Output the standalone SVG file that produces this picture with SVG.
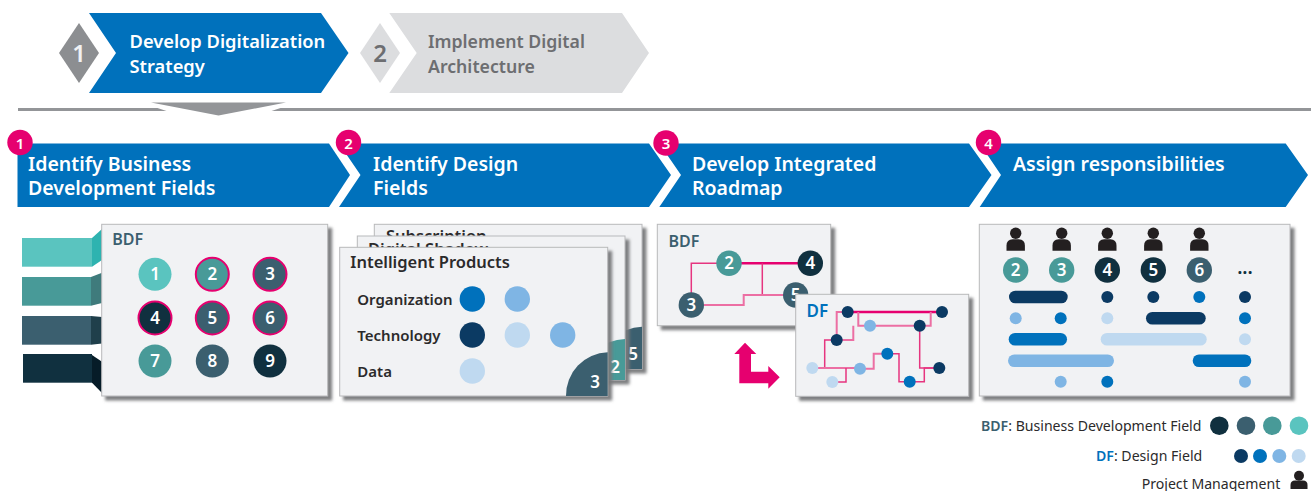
<svg xmlns="http://www.w3.org/2000/svg" width="1311" height="491" viewBox="0 0 1311 491">
<style>
text{font-family:"Noto Sans","Open Sans","Liberation Sans",sans-serif}
.hd{font-size:18.300px;font-weight:600;fill:#fff}
.hs{font-size:19.500px;font-weight:600;fill:#fff}
.hg{font-size:17.700px;font-weight:600;fill:#6d6e71}
.blue{fill:#0071bc}
.card{fill:#f1f2f4;stroke:#b8b9bb;stroke-width:1;filter:url(#sh)}
.n{font-size:17px;font-weight:600;fill:#fff;text-anchor:middle}
.b{font-size:15px;font-weight:600;fill:#fff;text-anchor:middle}
.bdf{font-size:16px;font-weight:600;fill:#3b5f6f}
.lab{font-size:15px;font-weight:600;fill:#2b2a2b}
.ttl{font-size:16.500px;font-weight:600;fill:#2b2a2b}
.leg{font-size:14.100px;fill:#2b2a2b}
.c1{fill:#5ac4bf}.c2{fill:#489a98}.c3{fill:#3b5f6f}.c4{fill:#10303f}
.d1{fill:#0b3a63}.d2{fill:#0071bc}.d3{fill:#7fb5e4}.d4{fill:#bfd9f0}
.ring{stroke:#e6006f;stroke-width:2}
.l0{fill:none;stroke:#e6006f;stroke-width:2.500}
.l1{fill:none;stroke:#e6357f;stroke-width:1.500}
.l2{fill:none;stroke:#ec6fa3;stroke-width:2}
.p{fill:#231f20}
.badge{fill:#e6006f}
</style>
<defs>
<filter id="sh" x="-10%" y="-10%" width="125%" height="125%"><feDropShadow dx="4" dy="4" stdDeviation="1.800" flood-color="#77787b" flood-opacity="0.950"/></filter>
<g id="person"><circle cx="0" cy="0" r="5.700" class="p"/><path class="p" d="M-9.200 17.500V12.500Q-9.200 6 -3 6H3Q9.200 6 9.200 12.500V17.500Z"/></g>
</defs>

<g id="phase-1">
<polygon points="59,53 79,23 99,53 79,83" fill="#8c8e91"/>
<text x="79" y="62" text-anchor="middle" font-size="24" font-weight="600" fill="#f1f2f4">1</text>
<polygon class="blue" points="89,13 321,13 348.500,53 321,93 89,93 116,53"/>
<text class="hd" x="129.500" y="48">Develop Digitalization</text>
<text class="hd" x="129.500" y="73">Strategy</text>
</g>
<g id="phase-2">
<polygon points="360,53 380,23 400,53 380,83" fill="#dcdddf"/>
<text x="380" y="62" text-anchor="middle" font-size="24" font-weight="600" fill="#6d6e71">2</text>
<polygon points="389.300,13 622,13 649,53 622,93 389.300,93 416.700,53" fill="#dcdddf"/>
<text class="hg" x="428" y="48">Implement Digital</text>
<text class="hg" x="428" y="73">Architecture</text>
</g>
<g id="divider">
<rect x="18" y="108" width="1293" height="3" fill="#939598"/>
<polygon points="156,107.500 282,107.500 270,111.500 168,111.500" fill="#fff"/>
<polygon points="151,102.500 286,102.500 218.500,115.500" fill="#939598"/>
</g>

<g id="step-1">
<polygon class="blue" points="17.500,143.500 329,143.500 350,175 329,207 17.500,207"/>
<text class="hs" x="28" y="171">Identify Business</text>
<text class="hs" x="28" y="195">Development Fields</text>
<circle class="badge" cx="20" cy="142.500" r="12.700"/><text class="b" x="20" y="148.500">1</text>
</g>
<g id="step-2">
<polygon class="blue" points="339,143.500 649,143.500 671,175 649,207 339,207 360.500,175"/>
<text class="hs" x="373" y="171">Identify Design</text>
<text class="hs" x="373" y="195">Fields</text>
<circle class="badge" cx="348.500" cy="142.500" r="12.700"/><text class="b" x="348.500" y="148.500">2</text>
</g>
<g id="step-3">
<polygon class="blue" points="659.300,143.500 969,143.500 991.500,175 969,207 659.300,207 681,175"/>
<text class="hs" x="692" y="171">Develop Integrated</text>
<text class="hs" x="692" y="195">Roadmap</text>
<circle class="badge" cx="666" cy="143" r="12.700"/><text class="b" x="666" y="149">3</text>
</g>
<g id="step-4">
<polygon class="blue" points="979.700,143.500 1285.700,143.500 1308,175 1285.700,207 979.700,207 1001,175"/>
<text class="hs" x="1013" y="171">Assign responsibilities</text>
<circle class="badge" cx="988.500" cy="142.500" r="12.700"/><text class="b" x="988.500" y="148.500">4</text>
</g>

<g id="bdf-stack">
<rect x="22" y="238" width="70" height="28.700" fill="#5ac4bf"/><polygon points="92,238 102,229 102,260 92,266.700" fill="#2eb3b0"/>
<rect x="22" y="277" width="69" height="28.700" fill="#489a98"/><polygon points="91,277 102,272.700 102,303 91,305.700" fill="#3f7b7c"/>
<rect x="22" y="316" width="69" height="28.700" fill="#3b5f6f"/><polygon points="91,316 102,317 102,343.500 91,344.700" fill="#1f3f4b"/>
<rect x="23" y="354" width="69" height="28.700" fill="#10303f"/><polygon points="92,355 102,361.700 102,393 92,382.700" fill="#061c28"/>
</g>
<g id="card-bdf">
<rect class="card" x="101.700" y="224.300" width="226" height="171.700"/>
<text class="bdf" x="112.300" y="245">BDF</text>
<circle class="c1" cx="155" cy="274.300" r="16.500"/><text class="n" x="155" y="280.300">1</text>
<circle class="c2 ring" cx="212.300" cy="274.300" r="16.500"/><text class="n" x="212.300" y="280.300">2</text>
<circle class="c3 ring" cx="270" cy="274.300" r="16.500"/><text class="n" x="270" y="280.300">3</text>
<circle class="c4 ring" cx="155" cy="318" r="16.500"/><text class="n" x="155" y="324">4</text>
<circle class="c3 ring" cx="212.300" cy="318" r="16.500"/><text class="n" x="212.300" y="324">5</text>
<circle class="c3 ring" cx="270" cy="318" r="16.500"/><text class="n" x="270" y="324">6</text>
<circle class="c2" cx="155" cy="361" r="16.500"/><text class="n" x="155" y="367">7</text>
<circle class="c3" cx="212.300" cy="361" r="16.500"/><text class="n" x="212.300" y="367">8</text>
<circle class="c4" cx="270" cy="361" r="16.500"/><text class="n" x="270" y="367">9</text>
</g>

<g id="card-subscription">
<rect class="card" x="374.300" y="224.300" width="267.700" height="144.700"/>
<path class="c3" d="M642 326.700A43 43 0 0 0 600 369H642Z"/>
<text class="n" x="633" y="360">5</text>
<text class="ttl" x="386" y="242">Subscription</text>
</g>
<g id="card-digital-shadow">
<rect class="card" x="357.300" y="236" width="267.700" height="144"/>
<path class="c2" d="M625 339A43 43 0 0 0 583 380H625Z"/>
<text class="n" x="615" y="373">2</text>
<text class="ttl" x="368" y="254.500">Digital Shadow</text>
</g>
<g id="card-intelligent-products">
<rect class="card" x="339.700" y="247.300" width="268" height="148.700"/>
<path class="c3" d="M607.700 352.300A43 43 0 0 0 566 396H607.700Z"/>
<text class="n" x="595" y="388">3</text>
<text class="ttl" x="350.300" y="267.700">Intelligent Products</text>
<text class="lab" x="357.300" y="305">Organization</text>
<text class="lab" x="357.300" y="341">Technology</text>
<text class="lab" x="357.300" y="376.700">Data</text>
<circle class="d2" cx="472.300" cy="299" r="12.700"/><circle class="d3" cx="517.300" cy="299" r="12.700"/>
<circle class="d1" cx="472.300" cy="335" r="12.700"/><circle class="d4" cx="517.300" cy="335" r="12.700"/><circle class="d3" cx="562.700" cy="335" r="12.700"/>
<circle class="d4" cx="472.300" cy="371" r="12.700"/>
</g>

<g id="card-roadmap-bdf">
<rect class="card" x="657.300" y="224.300" width="173.400" height="101.400"/>
<text class="bdf" x="668.500" y="246.500">BDF</text>
</g>
<g id="connectors-bdf">
<path class="l0" d="M741 263.300H798"/>
<path class="l1" d="M717 263.300H691.300V295"/>
<path class="l1" d="M762.300 263.300V295"/>
<path class="l2" d="M704 305H743.700V295H785"/>
</g>
<g id="roadmap-bdf-nodes">
<circle class="c2" cx="729" cy="263.300" r="12.700"/><text class="n" x="729" y="269.300">2</text>
<circle class="c4" cx="810.300" cy="263.300" r="12.700"/><text class="n" x="810.300" y="269.300">4</text>
<circle class="c3" cx="691.300" cy="305" r="12.700"/><text class="n" x="691.300" y="311">3</text>
<circle class="c3" cx="795.700" cy="295" r="12.700"/><text class="n" x="795.700" y="301">5</text>
</g>
<g id="arrow-roadmap">
<polygon fill="#e6006f" points="745,342.700 756.300,354 751,354 751,371.700 768.300,371.700 768.300,366 779.700,377.300 768.300,388.700 768.300,383.300 739.300,383.300 739.300,354 734.300,354"/>
</g>
<g id="card-roadmap-df">
<rect class="card" x="795.700" y="294.300" width="173" height="102"/>
<text x="806.500" y="317" font-size="17" font-weight="600" fill="#0071bc">DF</text>
</g>
<g id="connectors-df">
<path class="l0" d="M847.700 312H942"/>
<path class="l2" d="M847.700 312H836.700V340"/>
<path class="l2" d="M858.300 312V325.700H919.700"/>
<path class="l2" d="M853.300 325.700V340H836.700"/>
<path class="l2" d="M919.700 325.700H930.700V312"/>
<path class="l1" d="M836.700 340H824.700V368H812.300"/>
<path class="l2" d="M812.300 368H860"/>
<path class="l1" d="M846 368V382H832.300"/>
<path class="l2" d="M860 368.700H873.700V353.700H887.300"/>
<path class="l1" d="M887.300 353.700H899V381.700H909.700"/>
<path class="l1" d="M909.700 381.700H924.300V368H939.300"/>
<path class="l1" d="M919.700 325.700V368H939.300"/>
</g>
<g id="roadmap-df-nodes">
<circle class="d1" cx="847.700" cy="312" r="6"/><circle class="d1" cx="942" cy="312" r="6"/><circle class="d3" cx="870" cy="325.700" r="6"/><circle class="d1" cx="919.700" cy="325.700" r="6"/><circle class="d1" cx="836.700" cy="340" r="6"/><circle class="d2" cx="887.300" cy="353.700" r="6"/><circle class="d4" cx="812.300" cy="368" r="6"/><circle class="d3" cx="860" cy="368.700" r="6"/><circle class="d1" cx="939.300" cy="368" r="6"/><circle class="d4" cx="832.300" cy="382" r="6"/><circle class="d2" cx="909.700" cy="381.700" r="6"/>
</g>

<g id="card-responsibilities">
<rect class="card" x="979.300" y="224.300" width="310.700" height="171.700"/>
<use href="#person" x="1015.700" y="233.300"/><use href="#person" x="1061.700" y="233.300"/><use href="#person" x="1107.300" y="233.300"/><use href="#person" x="1153.300" y="233.300"/><use href="#person" x="1199.300" y="233.300"/>
<circle class="c2" cx="1015.700" cy="270" r="12.700"/><text class="n" x="1015.700" y="276">2</text>
<circle class="c2" cx="1061.700" cy="270" r="12.700"/><text class="n" x="1061.700" y="276">3</text>
<circle class="c4" cx="1107.300" cy="270" r="12.700"/><text class="n" x="1107.300" y="276">4</text>
<circle class="c4" cx="1153.300" cy="270" r="12.700"/><text class="n" x="1153.300" y="276">5</text>
<circle class="c3" cx="1199.300" cy="270" r="12.700"/><text class="n" x="1199.300" y="276">6</text>
<text x="1245" y="274" text-anchor="middle" font-size="19" font-weight="600" fill="#10303f">...</text>
<rect class="d1" x="1009" y="290.700" width="58.700" height="12.600" rx="6.300"/><circle class="d1" cx="1107.300" cy="297" r="6"/><circle class="d1" cx="1153.300" cy="297" r="6"/><circle class="d2" cx="1199.300" cy="297" r="6"/><circle class="d1" cx="1245" cy="297" r="6"/>
<circle class="d3" cx="1015.700" cy="318.300" r="6"/><circle class="d2" cx="1060.700" cy="318.300" r="6"/><circle class="d4" cx="1107.300" cy="318.300" r="6"/><rect class="d1" x="1146" y="312" width="59.700" height="12.600" rx="6.300"/><circle class="d2" cx="1245" cy="318.300" r="6"/>
<rect class="d2" x="1008.700" y="333" width="58.300" height="12.600" rx="6.300"/><rect class="d4" x="1100.700" y="333" width="106" height="12.600" rx="6.300"/><circle class="d4" cx="1245" cy="339.300" r="6"/>
<rect class="d3" x="1008" y="354.400" width="106" height="12.600" rx="6.300"/><rect class="d2" x="1192.700" y="354.400" width="58.600" height="12.600" rx="6.300"/>
<circle class="d3" cx="1060.700" cy="381.700" r="6"/><circle class="d2" cx="1107.300" cy="381.700" r="6"/><circle class="d3" cx="1245" cy="381.700" r="6"/>
</g>

<g id="legend">
<text class="leg" x="981" y="431"><tspan font-weight="600" fill="#3b5f6f">BDF</tspan>: Business Development Field</text>
<circle class="c4" cx="1219.300" cy="425.700" r="9.300"/><circle class="c3" cx="1246" cy="425.700" r="9.300"/><circle class="c2" cx="1272.300" cy="425.700" r="9.300"/><circle class="c1" cx="1299" cy="425.700" r="9.300"/>
<text class="leg" x="1096" y="461"><tspan font-weight="600" fill="#0071bc">DF</tspan>: Design Field</text>
<circle class="d1" cx="1241" cy="456" r="7"/><circle class="d2" cx="1260" cy="456" r="7"/><circle class="d3" cx="1279.300" cy="456" r="7"/><circle class="d4" cx="1298.700" cy="456" r="7"/>
<text class="leg" x="1141.700" y="488.500">Project Management</text>
<circle class="p" cx="1299" cy="475.700" r="5"/><path class="p" d="M1290.500 489V485Q1290.500 480.500 1295 480.500H1303Q1307.500 480.500 1307.500 485V489Z"/>
</g>
</svg>
